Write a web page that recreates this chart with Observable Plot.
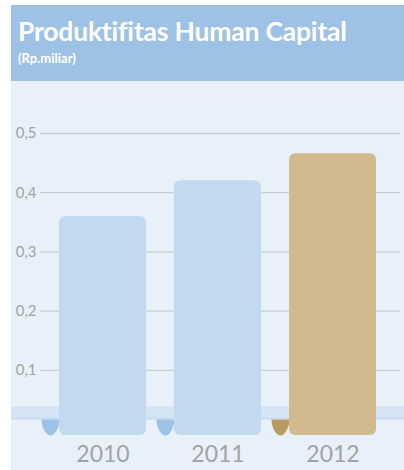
<!DOCTYPE html>
<html>
<head>
<meta charset="utf-8">
<script src="https://cdn.jsdelivr.net/npm/d3@7"></script>
<script src="https://cdn.jsdelivr.net/npm/@observablehq/plot@0.6"></script>
<style>
  html, body { margin: 0; padding: 0; background: #ffffff; }
  #wrap { position: absolute; left: 11px; top: 5px; width: 393px; height: 465px; background: #e8f0f9; }
  #head { position: relative; height: 76px; background: #9ec2e6; color: #ffffff; font-family: Lato, "Open Sans", sans-serif; }
  #title { position: absolute; left: 7px; top: 10px; font-size: 26.5px; font-weight: 700; letter-spacing: -0.2px; white-space: nowrap; }
  #sub { position: absolute; left: 7px; top: 45px; font-size: 13px; font-weight: 700; }
  #chart svg { display: block; }
</style>
</head>
<body>
<div id="wrap">
  <div id="head">
    <div id="title">Produktifitas Human Capital</div>
    <div id="sub">(Rp.miliar)</div>
  </div>
  <div id="chart"></div>
</div>
<script>
const years = ["2010", "2011", "2012"];
const values = [0.36, 0.42, 0.466];
const barColors = ["#c3d9f0", "#c3d9f0", "#d1bb8e"];
const curlColors = ["#9dc2e8", "#9dc2e8", "#b99c62"];
const yTicks = [0.1, 0.2, 0.3, 0.4, 0.5];

const data = years.map((year, i) => ({year, value: values[i], bar: barColors[i], curl: curlColors[i]}));

const curlSymbol = {
  draw(ctx) {
    ctx.moveTo(-9, 0);
    ctx.bezierCurveTo(-9, 9, -4, 16, 0, 16);
    ctx.bezierCurveTo(4, 16, 9, 8, 9, 0);
    ctx.closePath();
  }
};

const chart = Plot.plot({
  width: 393,
  height: 389,
  marginLeft: 29,
  marginRight: 4,
  marginTop: 0,
  marginBottom: 30,
  style: {background: "transparent", color: "#a3a3a3", fontFamily: "Lato, 'Open Sans', sans-serif"},
  x: {domain: years, range: [48, 365], paddingInner: 0.2435, paddingOuter: 0, axis: null},
  y: {domain: [0, 0.5], range: [348, 52], axis: null},
  marks: [
    Plot.ruleY(yTicks, {stroke: "#c8ced5", strokeWidth: 1.3}),
    Plot.ruleY([0], {dy: -17.5, stroke: "#d4e4f5", strokeWidth: 11, insetLeft: -29, insetRight: -4}),
    Plot.ruleY([0], {dy: -11, stroke: "#c6dbf1", strokeWidth: 2, insetLeft: -29, insetRight: -4}),
    Plot.dot(data, {x: "year", y: () => 0, dx: -52.5, dy: -10, symbol: curlSymbol, fill: "curl", stroke: null}),
    Plot.barY(data, {x: "year", y: "value", fill: "bar", rx: 6, insetBottom: -6}),
    Plot.axisY(yTicks, {label: null, tickSize: 0, tickPadding: 4, fontSize: 15, tickFormat: d => d.toFixed(1).replace(".", ",")}),
    Plot.axisX(years, {label: null, tickSize: 0, tickPadding: 5, fontSize: 23})
  ]
});
document.getElementById("chart").appendChild(chart);
</script>
</body>
</html>
